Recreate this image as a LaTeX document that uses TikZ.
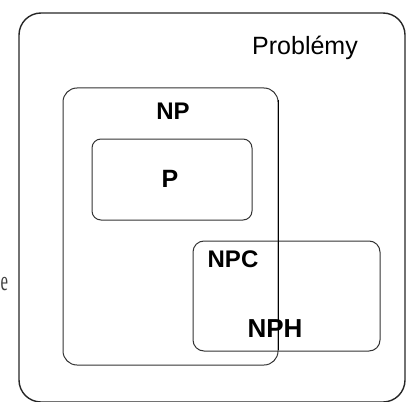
\documentclass[tikz,border=0pt]{standalone}
\usepackage{fontspec}
\setmainfont{Liberation Sans}
\newfontfamily\serifed{Liberation Serif}
\begin{document}
\begin{tikzpicture}[x=1pt,y=-1pt,
  outerbox/.style={draw=black!85,line width=1.4pt,rounded corners=22pt},
  setbox/.style={draw=black!80,line width=1pt},
  setlabel/.style={font=\bfseries,anchor=base,inner sep=0pt},
]
\useasboundingbox (0,0) rectangle (409,401);
% outer box
\draw[outerbox] (19,13) rectangle (405,402);
% NP box
\draw[setbox,rounded corners=14pt] (63,88) rectangle (278,365);
% P box
\draw[setbox,rounded corners=9pt] (92,139) rectangle (252,220);
% NPC / NPH box
\draw[setbox,rounded corners=11pt] (193,241) rectangle (380,351);
% labels
\node[anchor=base west,inner sep=0pt,font=\fontsize{25}{28}\selectfont] (problemy) at (252,55) {Problémy};
\node[setlabel,font=\bfseries\fontsize{24}{28}\selectfont] (np) at (173,119) {NP};
\node[setlabel,font=\bfseries\fontsize{25}{28}\selectfont] (p) at (170,187) {P};
\node[setlabel,font=\bfseries\fontsize{24}{28}\selectfont] (npc) at (233,267) {NPC};
\node[setlabel,font=\bfseries\fontsize{26}{28}\selectfont] (nph) at (275,337) {NPH};
\node[anchor=base west,inner sep=0pt,font=\serifed\fontsize{28}{30}\selectfont,text=black!75] (e) at (0.5,290) {\scalebox{0.6}[1]{\serifed e}};
% vertical NP line drawn over labels
\draw[setbox,draw=black] (278,100) -- (278,350);
\end{tikzpicture}
\end{document}
